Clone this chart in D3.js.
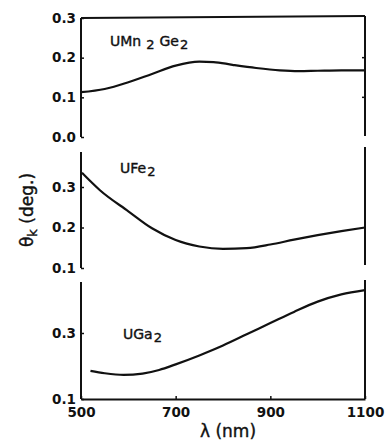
<!DOCTYPE html>
<html>
<head>
<meta charset="utf-8">
<script src="https://cdn.jsdelivr.net/npm/d3@7"></script>
<style>
  html, body { margin: 0; padding: 0; background: #fff; }
  svg { display: block; }
  text { font-family: "DejaVu Sans", sans-serif; fill: #111; }
</style>
</head>
<body>
<div id="chart"></div>
<script>
// wavelength ticks (nm)
const xTicks = [500, 700, 900, 1100]

// Kerr rotation spectra
const mnLambda = [500, 550, 600, 650, 700, 750, 780, 820, 870, 920, 960, 1000, 1050, 1100]
const mnTheta  = [0.113, 0.121, 0.138, 0.159, 0.180, 0.190, 0.189, 0.182, 0.174, 0.168, 0.166, 0.167, 0.168, 0.168]

const feLambda = [502, 540, 600, 650, 700, 750, 800, 850, 900, 950, 1000, 1050, 1100]
const feTheta  = [0.335, 0.292, 0.240, 0.198, 0.169, 0.153, 0.147, 0.149, 0.158, 0.170, 0.181, 0.191, 0.200]

const gaLambda = [520, 550, 590, 630, 665, 700, 750, 800, 850, 900, 950, 1000, 1050, 1100]
const gaTheta  = [0.185, 0.178, 0.173, 0.177, 0.188, 0.205, 0.232, 0.262, 0.296, 0.330, 0.364, 0.395, 0.417, 0.430]

// per-panel y ticks
const mnTicks = [0.0, 0.1, 0.2, 0.3]
const feTicks = [0.1, 0.2, 0.3]
const gaTicks = [0.1, 0.3]

// compound names: [text, isSubscript]
const mnName = [['UMn', 0], ['2', 1], ['Ge', 0], ['2', 1]]
const feName = [['UFe', 0], ['2', 1]]
const gaName = [['UGa', 0], ['2', 1]]

const width = 390, height = 446
const svg = d3.select('#chart').append('svg')
  .attr('width', width)
  .attr('height', height)

const x = d3.scaleLinear().domain([500, 1100]).range([81, 365])

const panels = [
  { name: mnName, lx: 110, ly: 46, lambda: mnLambda, theta: mnTheta, ticks: mnTicks,
    y: d3.scaleLinear().domain([0, 0.3]).range([137, 18]), left: [18, 137], right: [16, 136], top: true, rightTicks: [0.1, 0.2] },
  { name: feName, lx: 120, ly: 173, lambda: feLambda, theta: feTheta, ticks: feTicks,
    y: d3.scaleLinear().domain([0.1, 0.3]).range([268, 187]), left: [152, 268], right: [147, 265] },
  { name: gaName, lx: 123, ly: 339, lambda: gaLambda, theta: gaTheta, ticks: gaTicks,
    y: d3.scaleLinear().domain([0.1, 0.3]).range([399, 333]), left: [282, 399], right: [280, 399], bottom: true }
]

const ink = '#111'

function styleTickText(sel) {
  sel.style('font-family', '"DejaVu Sans", sans-serif')
    .style('font-weight', 'bold')
    .style('font-size', '13.5px')
    .attr('fill', ink)
}

panels.forEach(p => {
  const g = svg.append('g')

  // left spine
  g.append('line')
    .attr('x1', x(500)).attr('x2', x(500))
    .attr('y1', p.left[0]).attr('y2', p.left[1])
    .attr('stroke', ink).attr('stroke-width', 2)

  // right spine
  g.append('line')
    .attr('x1', x(1100)).attr('x2', x(1100))
    .attr('y1', p.right[0]).attr('y2', p.right[1])
    .attr('stroke', ink).attr('stroke-width', 2)

  if (p.top) {
    g.append('line')
      .attr('x1', x(500)).attr('x2', x(1100))
      .attr('y1', p.y(0.3)).attr('y2', p.right[0])
      .attr('stroke', ink).attr('stroke-width', 2)
  }

  // y ticks, pointing inward
  const yAxis = d3.axisLeft(p.y)
    .tickValues(p.ticks)
    .tickFormat(d3.format('.1f'))
    .tickSizeInner(-3)
    .tickSizeOuter(0)
    .tickPadding(5)
  const ya = g.append('g')
    .attr('transform', `translate(${x(500)},0)`)
    .call(yAxis)
  ya.select('.domain').remove()
  ya.selectAll('line').attr('stroke', ink).attr('stroke-width', 1.5)
  ya.selectAll('text').call(styleTickText)

  if (p.rightTicks) {
    g.selectAll('.rtick')
      .data(p.rightTicks)
      .join('line')
      .attr('x1', x(1100) - 3).attr('x2', x(1100))
      .attr('y1', d => p.y(d)).attr('y2', d => p.y(d))
      .attr('stroke', ink).attr('stroke-width', 1.5)
  }

  if (p.bottom) {
    const xAxis = d3.axisBottom(x)
      .tickValues(xTicks)
      .tickFormat(d3.format('d'))
      .tickSizeInner(-3)
      .tickSizeOuter(0)
      .tickPadding(8)
    const xa = g.append('g')
      .attr('transform', `translate(0,${p.left[1]})`)
      .call(xAxis)
    xa.select('.domain').attr('stroke', ink).attr('stroke-width', 2)
    xa.selectAll('line').attr('stroke', ink).attr('stroke-width', 1.5)
    xa.selectAll('text').call(styleTickText)
  }

  // the spectrum
  const pts = p.lambda.map((l, i) => [l, p.theta[i]])
  const line = d3.line()
    .x(d => x(d[0]))
    .y(d => p.y(d[1]))
    .curve(d3.curveMonotoneX)
  g.append('path')
    .datum(pts)
    .attr('d', line)
    .attr('fill', 'none')
    .attr('stroke', ink)
    .attr('stroke-width', 2.2)

  // compound label with subscripts
  const t = g.append('text')
    .attr('x', p.lx).attr('y', p.ly)
    .attr('font-size', 14)
    .attr('stroke', ink).attr('stroke-width', 0.4)
  let lowered = false
  p.name.forEach(([s, sub], i) => {
    const span = t.append('tspan').text(s)
    if (sub) {
      span.attr('font-size', 13).attr('dy', 3).attr('dx', i < p.name.length - 1 ? 5 : 1)
      lowered = true
    } else if (lowered) {
      span.attr('dy', -3).attr('dx', 5)
      lowered = false
    }
  })
})

// x axis title
svg.append('text')
  .attr('x', 228).attr('y', 437)
  .attr('text-anchor', 'middle')
  .attr('font-size', 17)
  .attr('stroke', ink).attr('stroke-width', 0.4)
  .text('λ (nm)')

// y axis title
const yt = svg.append('text')
  .attr('transform', 'translate(33,210) rotate(-90)')
  .attr('text-anchor', 'middle')
  .attr('font-size', 17)
  .attr('stroke', ink).attr('stroke-width', 0.4)
yt.append('tspan').text('θ')
yt.append('tspan').text('k').attr('font-size', 13).attr('dy', 4)
yt.append('tspan').text('  (deg.)').attr('dy', -4)
</script>
</body>
</html>
